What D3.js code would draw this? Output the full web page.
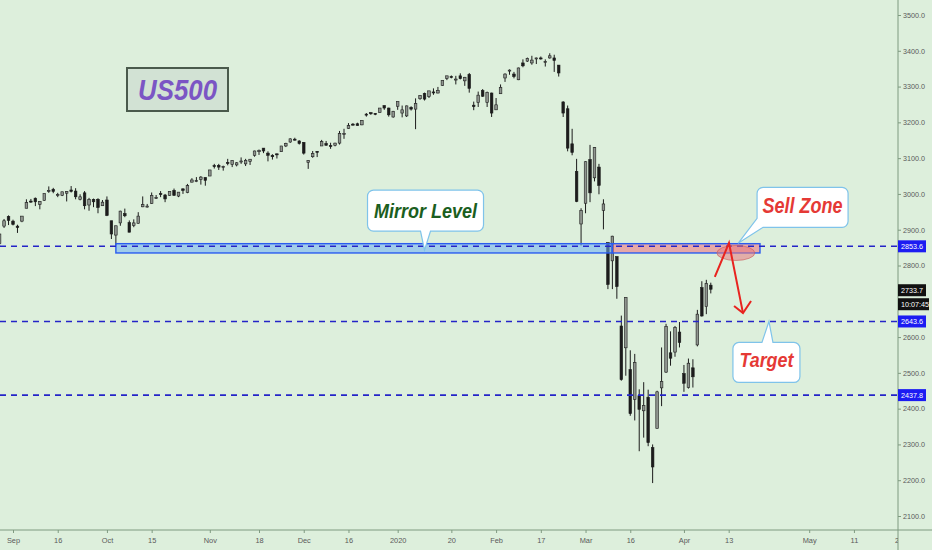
<!DOCTYPE html>
<html><head><meta charset="utf-8">
<script src="https://cdn.jsdelivr.net/npm/d3@7"></script>
<style>
html,body{margin:0;padding:0;background:#ddefdc;}
svg{display:block;}
</style></head><body>
<svg id="chart" width="932" height="550"></svg>
<script>
// ---------------- DATA ----------------
const barDates = [
"2019-08-28","2019-08-29","2019-08-30",
"2019-09-02","2019-09-03","2019-09-04","2019-09-05","2019-09-06","2019-09-09","2019-09-10","2019-09-11","2019-09-12","2019-09-13","2019-09-16","2019-09-17","2019-09-18","2019-09-19","2019-09-20","2019-09-23","2019-09-24","2019-09-25","2019-09-26","2019-09-27","2019-09-30",
"2019-10-01","2019-10-02","2019-10-03","2019-10-04","2019-10-07","2019-10-08","2019-10-09","2019-10-10","2019-10-11","2019-10-14","2019-10-15","2019-10-16","2019-10-17","2019-10-18","2019-10-21","2019-10-22","2019-10-23","2019-10-24","2019-10-25","2019-10-28","2019-10-29","2019-10-30","2019-10-31",
"2019-11-01","2019-11-04","2019-11-05","2019-11-06","2019-11-07","2019-11-08","2019-11-11","2019-11-12","2019-11-13","2019-11-14","2019-11-15","2019-11-18","2019-11-19","2019-11-20","2019-11-21","2019-11-22","2019-11-25","2019-11-26","2019-11-27","2019-11-28","2019-11-29",
"2019-12-02","2019-12-03","2019-12-04","2019-12-05","2019-12-06","2019-12-09","2019-12-10","2019-12-11","2019-12-12","2019-12-13","2019-12-16","2019-12-17","2019-12-18","2019-12-19","2019-12-20","2019-12-23","2019-12-24","2019-12-26","2019-12-27","2019-12-30","2019-12-31",
"2020-01-02","2020-01-03","2020-01-06","2020-01-07","2020-01-08","2020-01-09","2020-01-10","2020-01-13","2020-01-14","2020-01-15","2020-01-16","2020-01-17","2020-01-20","2020-01-21","2020-01-22","2020-01-23","2020-01-24","2020-01-27","2020-01-28","2020-01-29","2020-01-30","2020-01-31",
"2020-02-03","2020-02-04","2020-02-05","2020-02-06","2020-02-07","2020-02-10","2020-02-11","2020-02-12","2020-02-13","2020-02-14","2020-02-17","2020-02-18","2020-02-19","2020-02-20","2020-02-21","2020-02-24","2020-02-25","2020-02-26","2020-02-27","2020-02-28",
"2020-03-02","2020-03-03","2020-03-04","2020-03-05","2020-03-06","2020-03-09","2020-03-10","2020-03-11","2020-03-12","2020-03-13","2020-03-16","2020-03-17","2020-03-18","2020-03-19","2020-03-20","2020-03-23","2020-03-24","2020-03-25","2020-03-26","2020-03-27","2020-03-30","2020-03-31",
"2020-04-01","2020-04-02","2020-04-03","2020-04-06","2020-04-07","2020-04-08","2020-04-09"
];
const opens = [
2861,2910,2937,
2924,2910,2924,2960,2980,2988,2971,2982,3010,3013,2996,2996,3002,3011,3008,2984,3003,2969,2985,2985,2967,
2983,2925,2885,2919,2945,2920,2912,2918,2964,2966,2973,2990,3001,2997,2996,3010,2994,3014,3004,3033,3036,3040,3046,
3050,3079,3080,3075,3088,3082,3081,3090,3084,3091,3108,3118,3128,3114,3108,3112,3118,3134,3145,3153,3148,
3144,3088,3104,3119,3134,3141,3135,3136,3142,3166,3183,3195,3196,3193,3223,3227,3225,3227,3247,3240,3215,
3245,3226,3218,3242,3237,3266,3281,3272,3285,3282,3303,3323,3328,3321,3330,3316,3334,3248,3255,3289,3256,3282,
3235,3280,3324,3344,3335,3319,3366,3371,3366,3379,3380,3370,3380,3380,3360,3257,3238,3140,3063,2916,
2974,3096,3045,3075,2954,2864,2813,2825,2631,2570,2509,2426,2436,2394,2432,2291,2345,2458,2502,2556,2558,2614,
2498,2459,2514,2578,2738,2685,2745
];
const highs = [
2890,2930,2940,
2928,2914,2938,2985,2986,2990,2980,3001,3021,3017,3003,3006,3008,3022,3016,2999,3008,2989,2987,2988,2983,
2993,2925,2911,2953,2959,2926,2929,2949,2993,2972,3004,2997,3008,3000,3007,3015,3005,3016,3028,3044,3047,3050,3046,
3067,3084,3084,3079,3098,3094,3089,3102,3098,3097,3121,3124,3128,3119,3111,3113,3134,3143,3155,3157,3150,
3145,3094,3120,3120,3151,3148,3143,3143,3176,3182,3198,3198,3199,3206,3226,3228,3226,3240,3247,3241,3232,
3258,3247,3247,3245,3267,3276,3283,3288,3295,3299,3317,3330,3331,3330,3337,3327,3338,3258,3286,3293,3286,3283,
3268,3306,3337,3348,3341,3353,3376,3381,3386,3381,3384,3376,3393,3389,3360,3259,3247,3182,3098,2960,
3091,3137,3131,3084,2985,2864,2883,2825,2660,2711,2563,2553,2454,2474,2453,2300,2450,2571,2637,2616,2631,2642,
2522,2540,2538,2676,2756,2760,2752
];
const lows = [
2853,2905,2913,
2912,2891,2921,2960,2975,2966,2957,2981,3003,3002,2991,2994,2979,3004,2985,2982,2957,2953,2963,2946,2967,
2938,2874,2856,2911,2935,2893,2907,2917,2963,2962,2972,2986,2991,2977,2995,2995,2991,3000,3002,3032,3033,3026,3023,
3050,3071,3067,3065,3080,3075,3077,3084,3078,3081,3104,3109,3114,3091,3096,3099,3118,3131,3143,3149,3138,
3110,3070,3101,3103,3134,3135,3126,3133,3138,3154,3182,3191,3191,3192,3216,3221,3220,3227,3235,3216,3213,
3235,3214,3215,3233,3181,3263,3261,3268,3277,3281,3302,3318,3323,3306,3320,3302,3283,3234,3243,3271,3243,3215,
3235,3280,3313,3333,3323,3318,3354,3369,3361,3363,3375,3356,3378,3341,3328,3215,3119,3108,2977,2856,
2946,2977,3035,2999,2901,2734,2734,2707,2478,2492,2380,2367,2281,2319,2295,2192,2345,2407,2500,2520,2545,2571,
2447,2456,2459,2574,2657,2664,2722
];
const closes = [
2888,2925,2926,
2915,2906,2938,2976,2979,2978,2979,3001,3010,3007,2998,3006,3007,3007,2992,2992,2967,2985,2978,2962,2977,
2940,2888,2911,2952,2939,2893,2919,2938,2970,2966,2996,2990,2998,2986,3007,2996,3005,3010,3023,3039,3037,3047,3038,
3067,3078,3075,3077,3085,3093,3087,3092,3094,3097,3120,3122,3120,3108,3104,3110,3134,3141,3154,3152,3141,
3114,3093,3113,3117,3146,3136,3133,3142,3169,3169,3191,3193,3191,3205,3221,3224,3223,3240,3240,3221,3231,
3258,3235,3246,3237,3253,3275,3265,3288,3283,3289,3317,3330,3326,3321,3322,3326,3295,3244,3276,3273,3284,3226,
3249,3298,3335,3346,3328,3352,3358,3379,3374,3380,3378,3370,3386,3373,3338,3226,3128,3116,2979,2954,
3090,3003,3130,3024,2972,2747,2882,2741,2481,2711,2386,2529,2398,2409,2305,2237,2447,2476,2630,2541,2627,2585,
2471,2527,2489,2664,2659,2750,2733.7
];
const tickDates  = ["2019-09-02","2019-09-16","2019-10-01","2019-10-15","2019-11-01","2019-11-18","2019-12-02","2019-12-16","2020-01-02","2020-01-20","2020-02-03","2020-02-17","2020-03-02","2020-03-16","2020-04-01","2020-04-13","2020-05-01","2020-05-11","2020-05-21"];
const tickLabels = ["Sep","16","Oct","15","Nov","18","Dec","16","2020","20","Feb","17","Mar","16","Apr","13","May","11","21"];
// 2700 is covered by the last-price / countdown tags in the reference
const priceTicks = [2100,2200,2300,2400,2500,2600,2800,2900,3000,3100,3200,3300,3400,3500];
const levels = [2853.6, 2643.6, 2437.8];
const lastPrice = 2733.7;
const countdown = "10:07:45";
const zone = {top: 2861, bottom: 2835, start: "2019-10-03", split: "2020-03-10", end: "2020-04-20"};

// ---------------- LAYOUT ----------------
const W = 932, H = 550, axisX = 898, axisY = 530;
const step = 4.473;
const fmt = d3.timeFormat("%Y-%m-%d");
const futureDates = d3.timeDay.range(new Date(2020,3,10), new Date(2020,5,1)).map(fmt);
const slots = barDates.concat(futureDates);
const x0 = 13 - 3*step;
const x = d3.scalePoint().domain(slots).range([x0, x0 + step*(slots.length-1)]);
const xi = d3.scaleLinear().domain([0, slots.length-1]).range(x.range());
const y = d3.scaleLinear().domain([2100, 3500]).range([516, 15]);

const svg = d3.select("#chart");
svg.append("rect").attr("width", W).attr("height", H).attr("fill", "#ddefdc");
const defs = svg.append("defs");
defs.append("clipPath").attr("id","plot").append("rect").attr("x",0).attr("y",0).attr("width",axisX).attr("height",axisY);
defs.append("clipPath").attr("id","plotx").append("rect").attr("x",0).attr("y",0).attr("width",axisX).attr("height",30);

const plot = svg.append("g").attr("clip-path","url(#plot)");

// candles
const bars = barDates.map((d,i)=>({d, o:opens[i], h:highs[i], l:lows[i], c:closes[i]}));
const ink = "#1c1c1c";
const cg = plot.append("g");
cg.selectAll("line").data(bars).join("line")
  .attr("x1", b=>x(b.d)).attr("x2", b=>x(b.d))
  .attr("y1", b=>y(b.h)).attr("y2", b=>y(b.l))
  .attr("stroke", ink).attr("stroke-width", 1);
cg.selectAll("rect").data(bars).join("rect")
  .attr("x", b=>x(b.d)-1.3).attr("width", 2.6)
  .attr("y", b=>y(Math.max(b.o,b.c)))
  .attr("height", b=>Math.max(1, Math.abs(y(b.o)-y(b.c))))
  .attr("fill", b=> b.c>=b.o ? "#8f958f" : ink)
  .attr("stroke", ink).attr("stroke-width", 0.6);

// zone rectangles
plot.append("rect")
  .attr("x", x(zone.start)).attr("y", y(zone.top))
  .attr("width", x(zone.split)-x(zone.start)).attr("height", y(zone.bottom)-y(zone.top))
  .attr("fill", "rgba(110,175,245,0.55)").attr("stroke", "#2a5cf0").attr("stroke-width", 1.4);
plot.append("rect")
  .attr("x", x(zone.split)).attr("y", y(zone.top))
  .attr("width", x(zone.end)-x(zone.split)).attr("height", y(zone.bottom)-y(zone.top))
  .attr("fill", "rgba(235,125,135,0.62)").attr("stroke", "#2a5cf0").attr("stroke-width", 1.4);

// level dashed lines
plot.selectAll(".lvl").data(levels).join("line").attr("class","lvl")
  .attr("x1",0).attr("x2",axisX).attr("y1",d=>y(d)).attr("y2",d=>y(d))
  .attr("stroke","#2424c8").attr("stroke-width",1.6).attr("stroke-dasharray","6,5");

// ellipse
plot.append("ellipse").attr("cx", xi(164.6)).attr("cy", y(2835)).attr("rx", 19).attr("ry", 7.5)
  .attr("fill","rgba(232,120,125,0.55)").attr("stroke","rgba(200,90,90,0.6)").attr("stroke-width",1);

// red arrow
const arrowPts = [[159.9,2768],[163.07,2863],[166.2,2667]];
const wingPts = [[164.2,2687],[166.2,2667],[168.0,2701]];
const ln = d3.line().x(p=>xi(p[0])).y(p=>y(p[1]));
plot.append("path").attr("d", ln(arrowPts)).attr("fill","none").attr("stroke","#e8231f").attr("stroke-width",2).attr("stroke-linejoin","miter");
plot.append("path").attr("d", ln(wingPts)).attr("fill","none").attr("stroke","#e8231f").attr("stroke-width",2);

// callouts
function callout(L,T,Wd,Hd,r,ptr){
  const p = d3.path();
  if (ptr.side==="top"){
    p.moveTo(L+r,T); p.lineTo(ptr.b1,T); p.lineTo(ptr.tx,ptr.ty); p.lineTo(ptr.b2,T);
  } else { p.moveTo(L+r,T); }
  p.lineTo(L+Wd-r,T); p.arcTo(L+Wd,T,L+Wd,T+r,r);
  p.lineTo(L+Wd,T+Hd-r); p.arcTo(L+Wd,T+Hd,L+Wd-r,T+Hd,r);
  if (ptr.side==="bottom"){
    p.lineTo(ptr.b2,T+Hd); p.lineTo(ptr.tx,ptr.ty); p.lineTo(ptr.b1,T+Hd);
    p.lineTo(L+r,T+Hd); p.arcTo(L,T+Hd,L,T+Hd-r,r);
  } else if (ptr.side==="bl"){
    p.lineTo(L+6,T+Hd); p.lineTo(ptr.tx,ptr.ty); p.lineTo(L,T+Hd-9);
  } else {
    p.lineTo(L+r,T+Hd); p.arcTo(L,T+Hd,L,T+Hd-r,r);
  }
  p.lineTo(L,T+r); p.arcTo(L,T,L+r,T,r); p.closePath();
  return p.toString();
}
const ann = svg.append("g").attr("clip-path","url(#plot)");
function drawCallout(L,T,Wd,Hd,ptr,text,color,len,fs,base){
  ann.append("path").attr("d", callout(L,T,Wd,Hd,6,ptr))
    .attr("fill","#ffffff").attr("stroke","#7fc3ea").attr("stroke-width",1.2);
  ann.append("text").attr("x", L+Wd/2).attr("y", T+base).attr("text-anchor","middle")
    .attr("font-family","'Liberation Sans', Arial, sans-serif").attr("font-weight","bold").attr("font-style","italic")
    .attr("font-size", fs).attr("fill", color)
    .attr("textLength", len).attr("lengthAdjust","spacingAndGlyphs").text(text);
}
// Mirror Level
{
  const tx = xi(95), ty = y(2843);
  const L = tx-57, T = ty-60;
  drawCallout(L,T,116,41,{side:"bottom",b1:tx-4,b2:tx+6,tx,ty},"Mirror Level","#1b5e20",103,21,28);
}
// Sell Zone
{
  const tx = xi(165.1), ty = y(2862);
  const L = tx+19, T = ty-56;
  drawCallout(L,T,91,40,{side:"bl",tx,ty},"Sell Zone","#e53935",80,22,26);
}
// Target
{
  const tx = xi(172), ty = y(levels[1]);
  const L = tx-36, T = ty+21;
  drawCallout(L,T,67,40,{side:"top",b1:tx-7,b2:tx+4,tx,ty},"Target","#e53935",54,21,25);
}

// US500 title box
svg.append("rect").attr("x",127).attr("y",68).attr("width",101).attr("height",43)
  .attr("fill","#d2e2d4").attr("stroke","#4a5a4c").attr("stroke-width",2);
svg.append("text").attr("x",177.5).attr("y",100).attr("text-anchor","middle")
  .attr("font-family","'Liberation Sans', Arial, sans-serif").attr("font-weight","bold").attr("font-style","italic")
  .attr("font-size",30).attr("fill","#7b55c4").attr("textLength",79).attr("lengthAdjust","spacingAndGlyphs").text("US500");

// axes lines
svg.append("line").attr("x1",0).attr("x2",W).attr("y1",axisY).attr("y2",axisY).attr("stroke","#7f9a80").attr("stroke-width",1);
svg.append("line").attr("x1",axisX).attr("x2",axisX).attr("y1",0).attr("y2",H).attr("stroke","#7f9a80").attr("stroke-width",1);

// bottom axis
const xAxisG = svg.append("g").attr("transform",`translate(0,${axisY})`)
  .append("g").attr("clip-path","url(#plotx)");
xAxisG.call(d3.axisBottom(x).tickValues(tickDates).tickFormat((d,i)=>tickLabels[i]).tickSize(3).tickPadding(5));
xAxisG.select(".domain").remove();
xAxisG.selectAll(".tick line").attr("stroke","#7f9a80");
xAxisG.selectAll(".tick text").attr("fill","#5a5a5a").attr("font-size",7.4).attr("font-family","'Liberation Sans', Arial, sans-serif");

// right axis
const yAxisG = svg.append("g").attr("transform",`translate(${axisX},0)`);
yAxisG.call(d3.axisRight(y).tickValues(priceTicks).tickFormat(d3.format(".1f")).tickSize(3).tickPadding(2));
yAxisG.select(".domain").remove();
yAxisG.selectAll(".tick line").attr("stroke","#7f9a80");
yAxisG.selectAll(".tick text").attr("fill","#5a5a5a").attr("font-size",7.2).attr("font-family","'Liberation Sans', Arial, sans-serif");

// price labels
function priceTag(yc, txt, bg, w){
  svg.append("rect").attr("x",axisX).attr("y",yc-6).attr("width",w).attr("height",12).attr("fill",bg);
  svg.append("text").attr("x",axisX+3).attr("y",yc+2.6).attr("fill","#ffffff")
    .attr("font-size",7.2).attr("font-family","'Liberation Sans', Arial, sans-serif").text(txt);
}
levels.forEach(v=>priceTag(y(v), d3.format(".1f")(v), "#1c1cf2", 28));
priceTag(y(lastPrice)+1, d3.format(".1f")(lastPrice), "#111111", 28);
priceTag(y(lastPrice)+15, countdown, "#111111", 31);
</script>
</body></html>
